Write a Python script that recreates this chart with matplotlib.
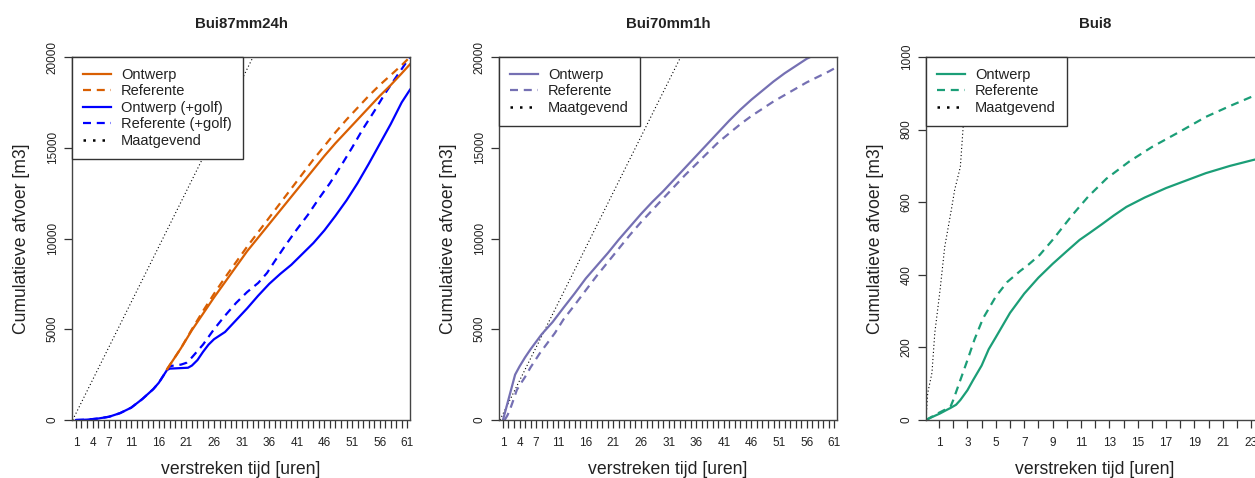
import numpy as np
import matplotlib.pyplot as plt
from matplotlib.lines import Line2D

plt.rcParams['font.family'] = ['Liberation Sans', 'DejaVu Sans']

# ---------------- Bui87mm24h ----------------
b1_golf_ontwerp_t = [1, 3, 5, 7, 9, 11, 13, 15, 16, 17.5, 18, 20, 21.3, 22, 23, 24, 25, 26, 28, 30, 32, 34, 36,
                     38, 40, 42, 44, 46, 48, 50, 52, 54, 56, 58, 60, 61.5]
b1_golf_ontwerp = [0, 20, 80, 180, 380, 680, 1150, 1700, 2050, 2760, 2830, 2860, 2880, 3000, 3300, 3750, 4150, 4450,
                   4850, 5500, 6150, 6850, 7500, 8050, 8550, 9150, 9750, 10450, 11250, 12100, 13050, 14100, 15200,
                   16300, 17500, 18200]
b1_golf_referente_t = [1, 3, 5, 7, 9, 11, 13, 15, 16, 17.5, 18, 19, 20, 21, 22, 24, 26, 28, 30, 32, 34, 35.6, 37, 39,
                       41, 43, 45, 47, 49, 51, 53, 55, 57, 59, 61.5]
b1_golf_referente = [0, 20, 80, 180, 380, 680, 1150, 1700, 2050, 2760, 2950, 3030, 3050, 3150, 3450, 4150, 5000, 5750,
                     6450, 7050, 7550, 8100, 8750, 9650, 10500, 11300, 12200, 13050, 14000, 15000, 16050, 17000,
                     18000, 18900, 20000]
b1_ontwerp_t = [17.5, 20, 22, 24, 26, 28, 30, 32, 34, 36, 38, 40, 42, 44, 46, 48, 50, 52, 54, 56, 58, 60, 61.5]
b1_ontwerp = [2800, 3950, 4950, 5850, 6750, 7600, 8450, 9300, 10050, 10800, 11550, 12300, 13050, 13800, 14550,
              15250, 15900, 16550, 17200, 17850, 18450, 19100, 19600]
b1_referente_t = [17.5, 20, 22, 24, 26, 28, 30, 32, 34, 36, 38, 40, 42, 44, 46, 48, 50, 52, 54, 56, 58, 60, 61.5]
b1_referente = [2800, 3950, 5000, 6000, 6950, 7850, 8700, 9550, 10350, 11150, 11950, 12750, 13550, 14350, 15100,
                15850, 16550, 17200, 17850, 18450, 19000, 19550, 20000]
b1_maatgevend_t = [0.4, 61.5]
b1_maatgevend = [0, 37400]

# ---------------- Bui70mm1h ----------------
b2_ontwerp_t = [1, 3.2, 4, 5, 6, 8, 10, 12, 14, 16, 18, 20, 22, 24, 26, 28, 30, 32, 34, 36, 38, 40,
                42, 44, 46, 48, 50, 52, 54, 56, 57]
b2_ontwerp = [0, 2500, 2950, 3450, 3900, 4720, 5400, 6200, 6980, 7800, 8500, 9200, 9950, 10650,
              11350, 12000, 12600, 13250, 13900, 14550, 15200, 15850, 16500, 17100, 17650, 18150, 18650, 19100,
              19500, 19900, 20050]
b2_referente_t = [1.3, 1.8, 2.3, 3, 3.5, 4.2, 5, 6, 7.7, 10.4, 12, 14, 16, 18, 20, 22, 24, 26, 28, 30, 32, 34, 36,
                  38, 40, 42, 44, 46, 48, 50, 52, 54, 56, 58, 60, 61.5]
b2_referente = [0, 250, 600, 1200, 1650, 2000, 2370, 2900, 3690, 4790, 5560, 6340, 7150, 7950, 8700, 9450, 10200,
                10900, 11550, 12200, 12850, 13500, 14100, 14700, 15300, 15800, 16300, 16750, 17150, 17550, 17900,
                18250, 18600, 18900, 19200, 19450]
b2_maatgevend_t = [0.45, 61.5]
b2_maatgevend = [0, 37300]

# ---------------- Bui8 ----------------
b3_ontwerp_t = [0.08, 0.5, 1.07, 1.5, 1.8, 2.2, 2.5, 3, 3.4, 4, 4.5, 5, 6, 7, 8, 9, 10, 10.9, 11.6, 12.5, 13.3,
                14.2, 15.5, 17, 18.5, 19.8, 21.5, 23.1, 24]
b3_ontwerp = [0, 8, 18, 27, 33, 42, 55, 82, 110, 150, 195, 228, 295, 348, 392, 430, 465, 496, 515, 540, 563, 587,
              613, 639, 661, 680, 700, 716, 724]
b3_referente_t = [0.08, 1, 1.8, 2, 2.5, 3, 3.5, 4.1, 5, 5.8, 6.7, 7.3, 8.1, 9, 10.4, 11.5, 12.8, 14.4, 16, 18, 19.8,
                  21.5, 23, 24]
b3_referente = [0, 20, 36, 55, 110, 165, 222, 280, 340, 380, 410, 428, 455, 496, 565, 615, 665, 712, 752, 795, 835,
                865, 890, 905]
b3_maatgevend_t = [0.08, 0.2, 0.5, 0.7, 1.07, 1.4, 1.9, 2.1, 2.5, 2.7, 3.0, 3.3]
b3_maatgevend = [0, 74, 130, 240, 358, 477, 587, 634, 697, 808, 900, 1000]

labels_61 = [1, 4, 7, 11, 16, 21, 26, 31, 36, 41, 46, 51, 56, 61]
labels_23 = list(range(1, 24, 2))

orange = '#D95F02'
blue = '#0000FF'
purple = '#7570B3'
green = '#1B9E77'

W, H = 1255, 478
fig = plt.figure(figsize=(W / 100, H / 100), dpi=100)

solid = dict(lw=1.6, ls='-')
dashed = dict(lw=1.6, ls=(0, (3.6, 2.6)))
dotted = dict(lw=0.8, ls=(0, (1, 2.2)), color='black')


def make_axes(left, xlim, ylim, yticks, xticks, xlabels, title):
    ax = fig.add_axes([left / W, (H - 420) / H, 338 / W, 363 / H])
    ax.set_xlim(*xlim)
    ax.set_ylim(*ylim)
    ax.set_xticks(xticks)
    ax.set_xticklabels([str(t) if t in xlabels else '' for t in xticks])
    ax.set_yticks(yticks)
    ax.set_yticklabels([str(v) for v in yticks], rotation=90, va='center')
    ax.tick_params(direction='out', length=6, width=0.9, color='#333333', labelsize=8.5,
                   labelcolor='#222222', pad=6)
    ax.tick_params(axis='y', pad=3.5)
    for s in ax.spines.values():
        s.set_color('#444444')
        s.set_linewidth(1.0)
    ax.set_xlabel('verstreken tijd [uren]', fontsize=12.7, color='#222222')
    ax.xaxis.set_label_coords(0.5, -0.113)
    ax.set_ylabel('Cumulatieve afvoer [m3]', fontsize=12.7, color='#222222', va='center')
    ax.yaxis.set_label_coords(-0.148, 0.5)
    ax.set_title(title, fontsize=10.8, fontweight='bold', color='#222222', y=1.09, va='center', pad=0)
    return ax


def add_legend(ax, handles, labels):
    leg = ax.legend(handles, labels, loc='upper left', borderaxespad=0, fancybox=False, framealpha=1,
                    edgecolor='#333333', fontsize=10.5, handlelength=1.9, handletextpad=0.7,
                    labelspacing=0.17, borderpad=0.75)
    leg.get_frame().set_linewidth(1.0)
    for t in leg.get_texts():
        t.set_color('#222222')
    return leg


# Panel 1
ax1 = make_axes(72, (0.28, 61.5), (0, 20000), [0, 5000, 10000, 15000, 20000], list(range(1, 62)), labels_61,
                'Bui87mm24h')
ax1.plot(b1_maatgevend_t, b1_maatgevend, **dotted)
ax1.plot(b1_golf_referente_t, b1_golf_referente, color=blue, **dashed)
ax1.plot(b1_golf_ontwerp_t, b1_golf_ontwerp, color=blue, **solid)
ax1.plot(b1_referente_t, b1_referente, color=orange, **dashed)
ax1.plot(b1_ontwerp_t, b1_ontwerp, color=orange, **solid)
add_legend(ax1,
           [Line2D([], [], color=orange, **solid), Line2D([], [], color=orange, **dashed),
            Line2D([], [], color=blue, **solid), Line2D([], [], color=blue, **dashed),
            Line2D([], [], color='black', lw=1.8, ls=(0, (1, 2.8)))],
           ['Ontwerp', 'Referente', 'Ontwerp (+golf)', 'Referente (+golf)', 'Maatgevend'])

# Panel 2
ax2 = make_axes(499, (0.28, 61.5), (0, 20000), [0, 5000, 10000, 15000, 20000], list(range(1, 62)), labels_61,
                'Bui70mm1h')
ax2.plot(b2_maatgevend_t, b2_maatgevend, **dotted)
ax2.plot(b2_referente_t, b2_referente, color=purple, **dashed)
ax2.plot(b2_ontwerp_t, b2_ontwerp, color=purple, **solid)
add_legend(ax2,
           [Line2D([], [], color=purple, **solid), Line2D([], [], color=purple, **dashed),
            Line2D([], [], color='black', lw=1.8, ls=(0, (1, 2.8)))],
           ['Ontwerp', 'Referente', 'Maatgevend'])

# Panel 3
ax3 = make_axes(926, (0.08, 23.9), (0, 1000), [0, 200, 400, 600, 800, 1000], list(range(1, 24)), labels_23,
                'Bui8')
ax3.plot(b3_maatgevend_t, b3_maatgevend, **dotted)
ax3.plot(b3_referente_t, b3_referente, color=green, **dashed)
ax3.plot(b3_ontwerp_t, b3_ontwerp, color=green, **solid)
add_legend(ax3,
           [Line2D([], [], color=green, **solid), Line2D([], [], color=green, **dashed),
            Line2D([], [], color='black', lw=1.8, ls=(0, (1, 2.8)))],
           ['Ontwerp', 'Referente', 'Maatgevend'])

fig.savefig('out.png', dpi=100)
